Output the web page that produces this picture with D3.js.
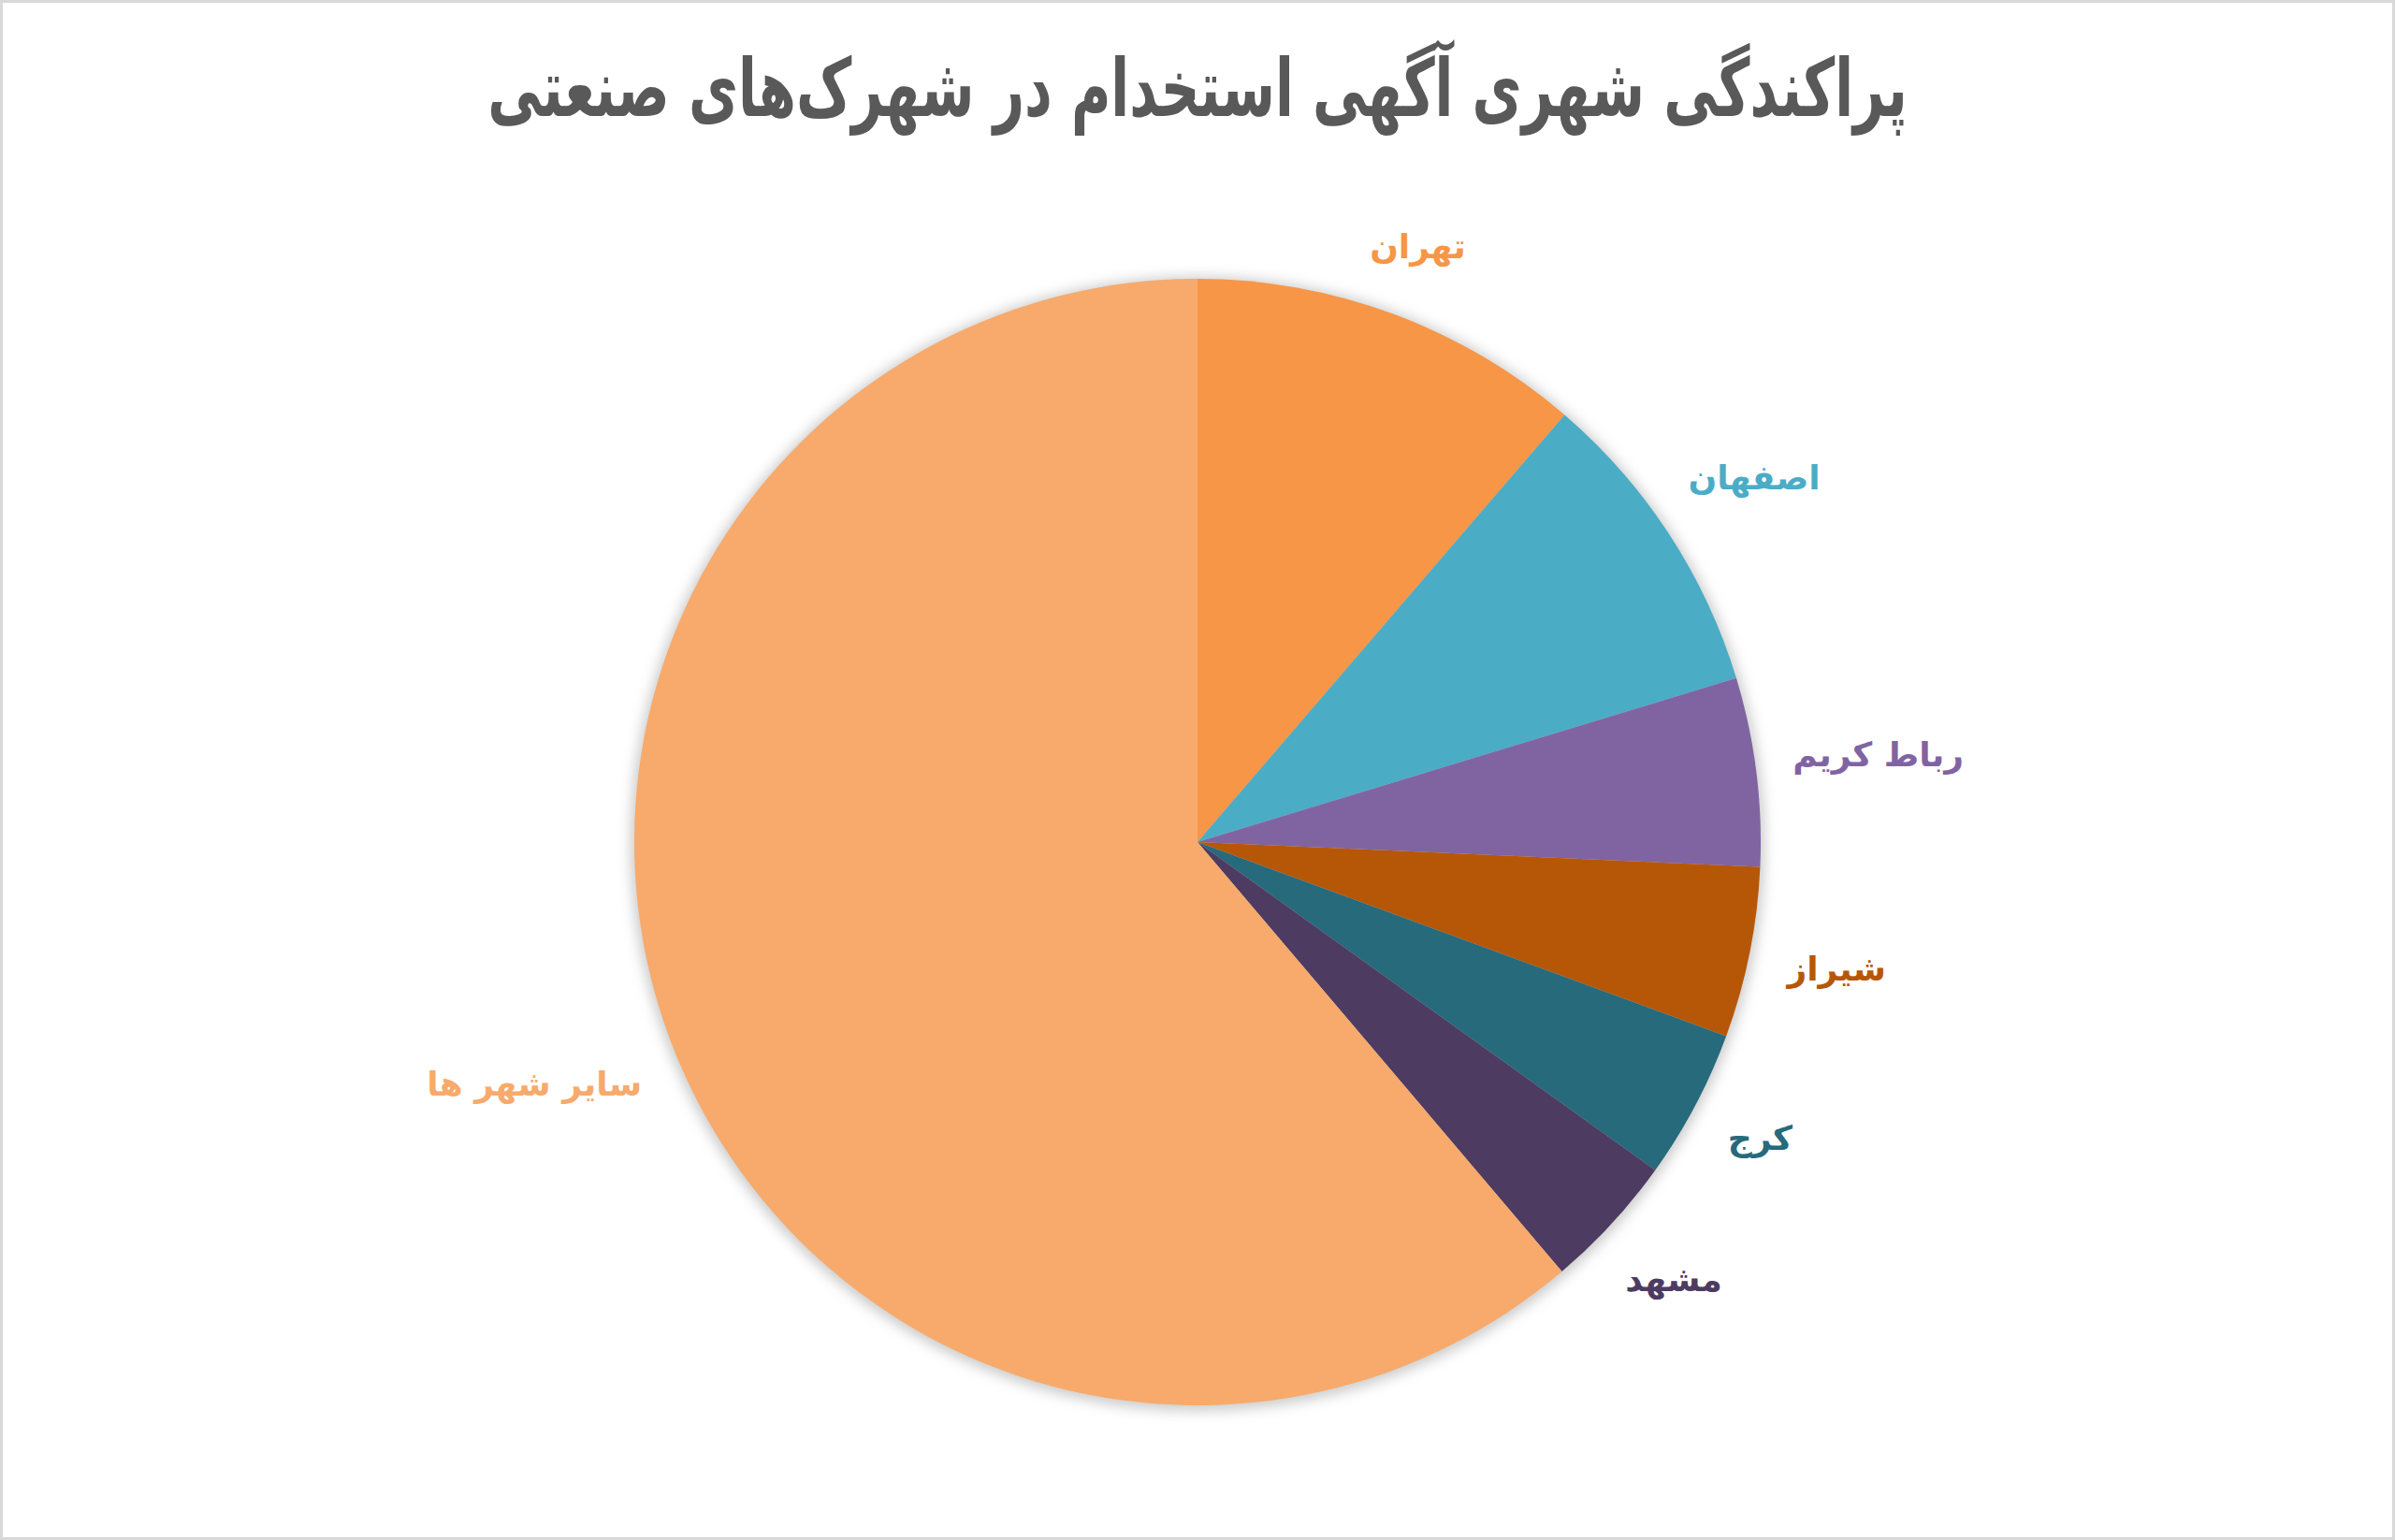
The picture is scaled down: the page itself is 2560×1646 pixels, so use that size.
<!DOCTYPE html>
<html>
<head>
<meta charset="utf-8">
<script src="https://cdn.jsdelivr.net/npm/d3@7"></script>
<style>
  html, body { margin: 0; padding: 0; background: #fff; }
  svg { display: block; }
</style>
</head>
<body>
<div id="chart"></div>
<script>
// data (share of job ads, %)
var cities = ["تهران", "اصفهان", "رباط کریم", "شیراز", "کرج", "مشهد", "سایر شهر ها"];
var shares = [11.3, 9.0, 5.4, 4.9, 4.3, 3.9, 61.2];
var colours = ["#F79646", "#4BACC6", "#8064A2", "#B65708", "#276A7C", "#4D3B62", "#F7AA6B"];
var title = "پراکندگی شهری آگهی استخدام در شهرک‌های صنعتی";

var width = 2560, height = 1646;
var cx = 1280, cy = 900, radius = 602;
var labelGap = 640;
var titleWidth = 1518;

var data = cities.map(function(c, i) { return {city: c, value: shares[i], colour: colours[i]}; });

var svg = d3.select("#chart").append("svg")
    .attr("width", width).attr("height", height)
    .style("font-family", "'DejaVu Sans', sans-serif");

svg.append("rect").attr("x", 1.5).attr("y", 1.5)
    .attr("width", width - 3).attr("height", height - 3)
    .attr("fill", "#fff").attr("stroke", "#d9d9d9").attr("stroke-width", 3);

var defs = svg.append("defs");
var glow = defs.append("filter").attr("id", "glow")
    .attr("x", "-20%").attr("y", "-20%").attr("width", "140%").attr("height", "140%");
glow.append("feGaussianBlur").attr("stdDeviation", 7);

// title: the original font is tall and narrow, so squeeze it sideways
var titleText = svg.append("text")
    .attr("text-anchor", "middle")
    .attr("direction", "rtl")
    .attr("font-size", 86).attr("font-weight", "bold")
    .attr("fill", "#595959")
    .text(title);
var tw = titleText.node().getComputedTextLength();
titleText.attr("transform", "translate(" + (width / 2) + ",124) scale(" + (titleWidth / tw) + ",1)");

var g = svg.append("g").attr("transform", "translate(" + cx + "," + cy + ")");

// soft shadow round the pie
g.append("circle").attr("r", radius + 4).attr("cy", 2)
    .attr("fill", "#bdbdbd").attr("filter", "url(#glow)").attr("opacity", 0.8);

var pie = d3.pie().sort(null).value(function(d) { return d.value; });
var arc = d3.arc().innerRadius(0).outerRadius(radius);
var arcs = pie(data);

g.selectAll(".slice").data(arcs).enter().append("path")
    .attr("class", "slice")
    .attr("d", arc)
    .attr("fill", function(d) { return d.data.colour; });

var labels = g.selectAll(".label").data(arcs).enter().append("text")
    .attr("class", "label")
    .attr("text-anchor", "middle")
    .attr("direction", "rtl")
    .attr("font-size", 36).attr("font-weight", "bold")
    .attr("fill", function(d) { return d.data.colour; })
    .text(function(d) { return d.data.city; });

// place each label outside the arc, pushed out by half its box along the mid angle
labels.each(function(d) {
    var a = (d.startAngle + d.endAngle) / 2;
    var s = Math.sin(a), c = Math.cos(a);
    var bb = this.getBBox();
    var dist = labelGap + Math.abs(s) * bb.width / 2 + Math.abs(c) * bb.height / 2;
    var x = s * dist, y = -c * dist;
    d3.select(this).attr("x", x).attr("y", y).attr("dy", "0.3em");
});
</script>
</body>
</html>
